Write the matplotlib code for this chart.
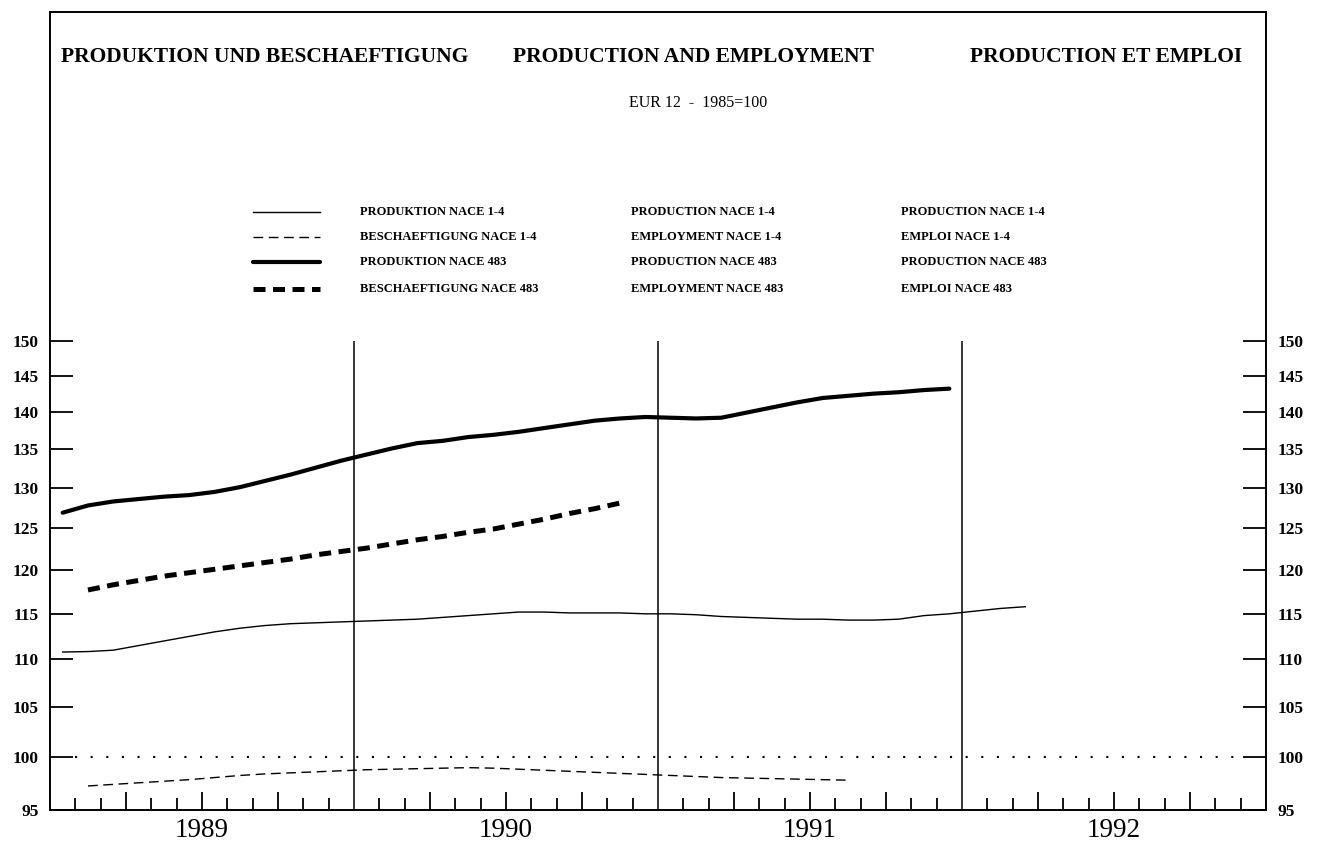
import numpy as np
import matplotlib
matplotlib.use("Agg")
import matplotlib.pyplot as plt
from matplotlib.lines import Line2D
from matplotlib.ticker import FixedLocator, FixedFormatter, NullLocator

plt.rcParams['font.family'] = ['Liberation Serif', 'DejaVu Serif']

# monthly index values (1985=100); first month counted from Jan 1989 = 1
prod_nace14_start = 1
prod_nace14 = [110.8, 110.85, 111.0, 111.5, 112.0, 112.5, 113.0, 113.4, 113.7, 113.9,
               114.0, 114.1, 114.2, 114.3, 114.4, 114.6, 114.8, 115.0, 115.2, 115.2,
               115.1, 115.1, 115.1, 115.0, 115.0, 114.9, 114.7, 114.6, 114.5, 114.4,
               114.4, 114.3, 114.3, 114.4, 114.8, 115.0, 115.3, 115.6, 115.8]

empl_nace14_start = 2
empl_nace14 = [97.25, 97.4, 97.55, 97.7, 97.85, 98.05, 98.25, 98.4, 98.5, 98.6,
               98.7, 98.8, 98.85, 98.9, 98.95, 99.0, 98.95, 98.85, 98.75, 98.65,
               98.55, 98.45, 98.35, 98.25, 98.15, 98.05, 98.0, 97.95, 97.9, 97.85,
               97.8]

prod_nace483_start = 1
prod_nace483 = [126.9, 127.8, 128.3, 128.6, 128.9, 129.1, 129.5, 130.1, 130.9, 131.7,
                132.6, 133.5, 134.3, 135.1, 135.8, 136.1, 136.6, 136.9, 137.3, 137.8,
                138.3, 138.8, 139.1, 139.3, 139.2, 139.1, 139.2, 139.9, 140.6, 141.3,
                141.9, 142.2, 142.5, 142.7, 143.0, 143.2]

empl_nace483_start = 2
empl_nace483 = [117.7, 118.3, 118.8, 119.3, 119.7, 120.1, 120.5, 120.9, 121.3, 121.8,
                122.2, 122.6, 123.1, 123.6, 124.0, 124.5, 124.9, 125.5, 126.1, 126.8,
                127.4, 128.1]

years = ['1989', '1990', '1991', '1992']
y_ticks = [95, 100, 105, 110, 115, 120, 125, 130, 135, 140, 145, 150]

labels_de = ['PRODUKTION NACE 1-4', 'BESCHAEFTIGUNG NACE 1-4',
             'PRODUKTION NACE 483', 'BESCHAEFTIGUNG NACE 483']
labels_en = ['PRODUCTION NACE 1-4', 'EMPLOYMENT NACE 1-4',
             'PRODUCTION NACE 483', 'EMPLOYMENT NACE 483']
labels_fr = ['PRODUCTION NACE 1-4', 'EMPLOI NACE 1-4',
             'PRODUCTION NACE 483', 'EMPLOI NACE 483']

styles = [
    dict(color='black', lw=1.0, ls='-'),
    dict(color='black', lw=1.0, ls=(0, (7, 4))),
    dict(color='black', lw=3.0, ls='-', solid_capstyle='round', solid_joinstyle='round'),
    dict(color='black', lw=3.6, ls=(0, (2.4, 1.5))),
]

W, H = 1324, 848


def fx(px):
    return px / W


def fy(py):
    return 1 - py / H


fig = plt.figure(figsize=(W / 100, H / 100), dpi=100)
ax = fig.add_axes([fx(50), fy(810), 1216 / W, 798 / H])

series = [
    (prod_nace14_start, prod_nace14),
    (empl_nace14_start, empl_nace14),
    (prod_nace483_start, prod_nace483),
    (empl_nace483_start, empl_nace483),
]
for (start, vals), st in zip(series, styles):
    # plotted at mid-month
    x = start - 0.5 + np.arange(len(vals))
    ax.plot(x, vals, **st)

# semi-log scale; the frame extends above the plotting range for the titles
ax.set_yscale('log')
px_per_ln = 469 / np.log(150 / 95)
ax.set_ylim(95, 95 * np.exp(798 / px_per_ln))
ax.set_xlim(0, 48)

# base line 100 (dotted) and year separators
ax.hlines(100, 1.0, 47.0, color='black', lw=1.5, ls=(0, (1, 6.5)))
ax.vlines([12, 24, 36], 95, 150, color='black', lw=1.1)

ax.yaxis.set_major_locator(FixedLocator(y_ticks))
ax.yaxis.set_major_formatter(FixedFormatter([str(v) for v in y_ticks]))
ax.yaxis.set_minor_locator(NullLocator())
ax.tick_params(axis='y', which='major', direction='in', length=16.5, width=1.3,
               left=True, right=True, labelleft=True, labelright=True,
               pad=8, labelsize=12.5)
for t in ax.yaxis.get_major_ticks():
    t.label1.set_fontweight('bold')
    t.label2.set_fontweight('bold')

quarter = [m for m in range(1, 48) if m % 3 == 0 and m % 12 != 0]
monthly = [m for m in range(1, 48) if m % 3 != 0]
ax.xaxis.set_major_locator(FixedLocator(quarter))
ax.xaxis.set_minor_locator(FixedLocator(monthly))
ax.tick_params(axis='x', which='major', direction='in', length=13, width=1.3,
               labelbottom=False)
ax.tick_params(axis='x', which='minor', direction='in', length=8.5, width=1.3)

for i, yr in enumerate(years):
    ax.text(6 + 12 * i, -0.026, yr, transform=ax.get_xaxis_transform(),
            ha='center', va='center', fontsize=19.5)

for sp in ax.spines.values():
    sp.set_linewidth(1.4)

# titles
fig.text(fx(61), fy(57), 'PRODUKTION UND BESCHAEFTIGUNG', ha='left', va='center',
         fontsize=15.5, fontweight='bold')
fig.text(fx(513), fy(57), 'PRODUCTION AND EMPLOYMENT', ha='left', va='center',
         fontsize=15.5, fontweight='bold')
fig.text(fx(970), fy(57), 'PRODUCTION ET EMPLOI', ha='left', va='center',
         fontsize=15.5, fontweight='bold')
fig.text(fx(698), fy(103), 'EUR 12  -  1985=100', ha='center', va='center',
         fontsize=11.5)

# legend drawn by hand: sample line + three language columns
rows_y = [212, 237, 262, 289]
for j, st in enumerate(styles):
    y = fy(rows_y[j])
    fig.add_artist(Line2D([fx(253), fx(320)], [y, y], **st))
    for x0, labs in zip([360, 631, 901], [labels_de, labels_en, labels_fr]):
        fig.text(fx(x0), y, labs[j], ha='left', va='center',
                 fontsize=9, fontweight='bold')

fig.savefig('out.png', dpi=100)
